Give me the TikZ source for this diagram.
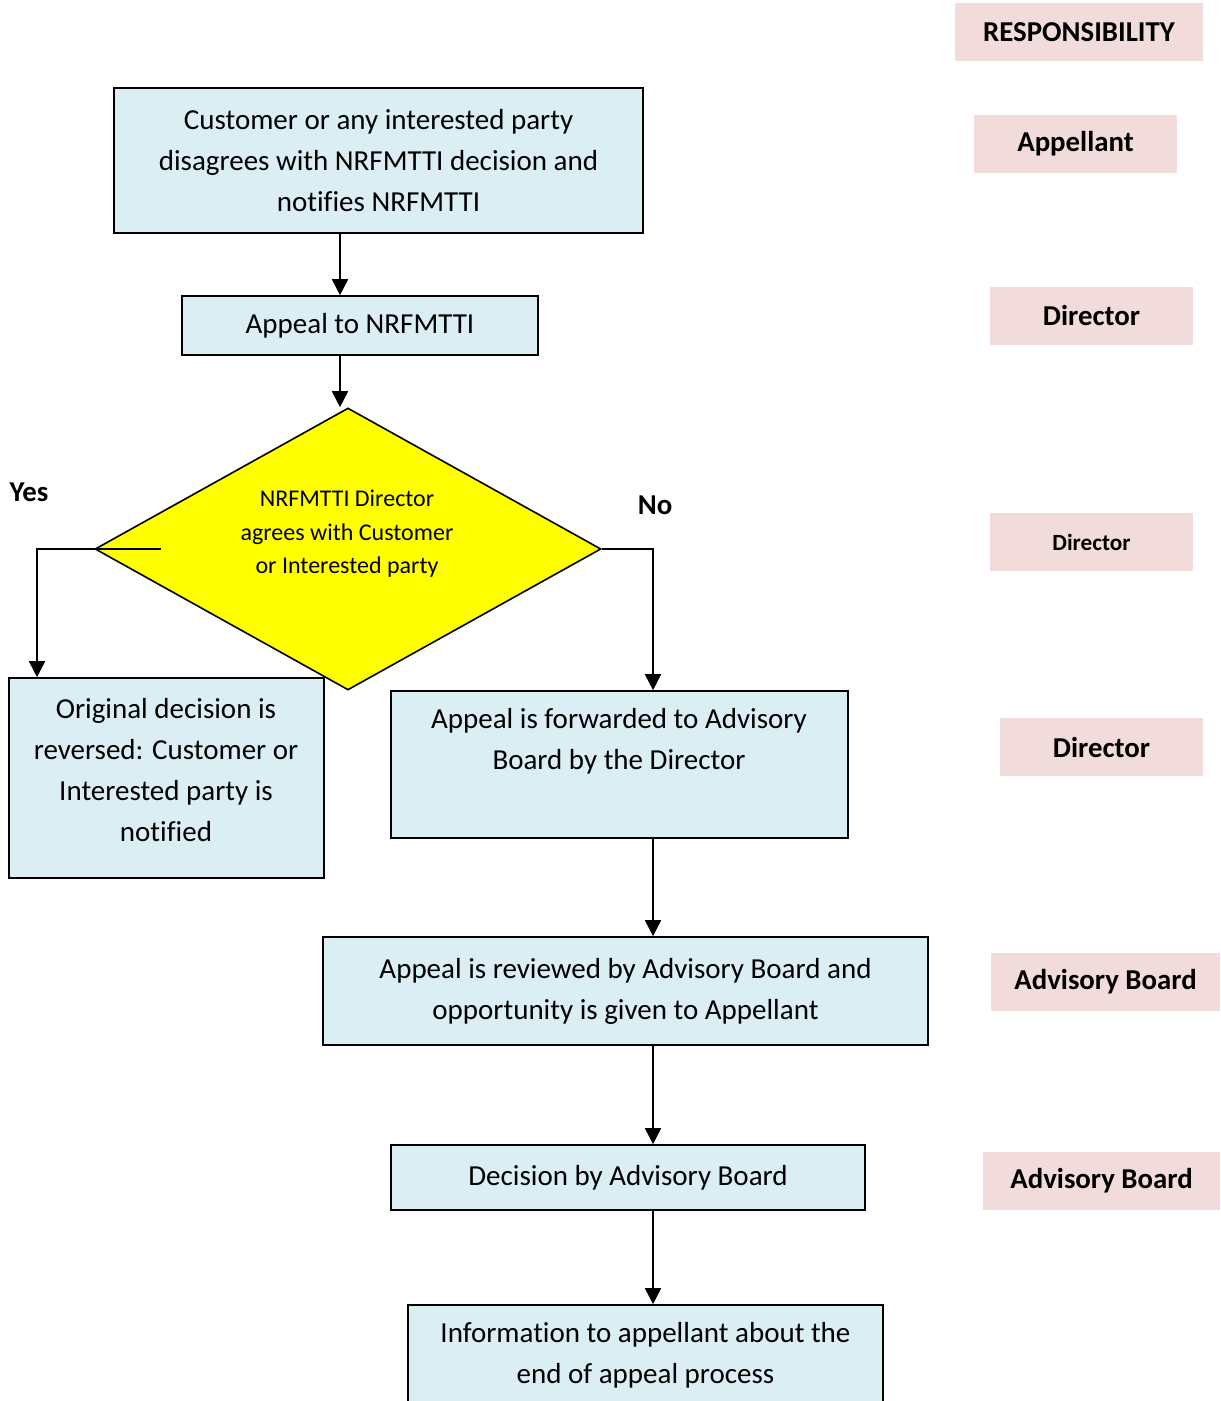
\documentclass[tikz,border=0pt]{standalone}
\usepackage{fontspec}
\setmainfont{Carlito}[Ligatures=CommonOff]
\usetikzlibrary{positioning,shapes.geometric,arrows.meta}
\definecolor{boxblue}{HTML}{DAEEF3}
\definecolor{rolepink}{HTML}{F2DCDB}
\definecolor{diayellow}{HTML}{FFFF00}
\tikzset{
    stepbox/.style={draw=black, line width=0.8pt, fill=boxblue, align=center,
        inner sep=0pt, font=\fontsize{14.5}{20.5}\selectfont},
    rolebox/.style={fill=rolepink, inner sep=0pt, minimum height=29pt,
        font=\fontsize{14.4}{17}\selectfont\bfseries},
    choice/.style={diamond, aspect=1.8, draw=black, line width=0.8pt, fill=diayellow,
        inner sep=0pt, minimum width=253pt, minimum height=141pt},
    flow/.style={line width=0.8pt, -{Triangle[length=8pt,width=8pt]}},
    answer/.style={font=\fontsize{14.4}{17}\selectfont\bfseries}
}

\begin{document}
\begin{tikzpicture}[x=0.5pt, y=-0.5pt]
\useasboundingbox (0,0) rectangle (1220,1401);

% responsibility column
\node[rolebox, minimum width=124pt] (resp) at (1079,32) {RESPONSIBILITY\hspace{16pt}};
\node[rolebox, minimum width=101.5pt] (rappl) at (1075.5,144) {Appellant};
\node[rolebox, minimum width=101.5pt] (rdir1) at (1091.5,316) {Director};
\node[rolebox, minimum width=101.5pt, font=\fontsize{11.6}{14}\selectfont\bfseries] (rdir2) at (1091.5,542) {Director};
\node[rolebox, minimum width=101.5pt] (rdir3) at (1101.5,747) {Director};
\node[rolebox, minimum width=114.5pt] (radv1) at (1105.5,982) {Advisory Board};
\node[rolebox, minimum width=118.5pt] (radv2) at (1101.5,1181) {Advisory Board};

% process
\node[stepbox, minimum width=264.5pt, minimum height=72.5pt] (cust) at (378.5,160.5)
    {Customer or any interested party\\disagrees with NRFMTTI decision and\\notifies NRFMTTI};
\node[stepbox, minimum width=178pt, minimum height=29.5pt] (appeal) at (360,325.5) {Appeal to NRFMTTI};
\node[choice] (dec) at (348,549) {};
\node[align=center, font=\fontsize{12}{16.75}\selectfont] (dectext) at (347,534)
    {NRFMTTI Director\\agrees with Customer\\or Interested party};
\node[stepbox, minimum width=157.5pt, minimum height=100pt] (yes) at (166.5,778) {};
\node[align=center, font=\fontsize{14.5}{20.5}\selectfont] (yestext) at (166,770)
    {Original decision is\\reversed: Customer or\\Interested party is\\notified};
\node[stepbox, minimum width=228.5pt, minimum height=73.5pt] (fwd) at (619.5,764.5) {};
\node[align=center, font=\fontsize{14.5}{20.5}\selectfont] (fwdtext) at (619,741)
    {Appeal is forwarded to Advisory\\Board by the Director};
\node[stepbox, minimum width=302.5pt, minimum height=54pt] (review) at (625.5,991)
    {Appeal is reviewed by Advisory Board and\\opportunity is given to Appellant};
\node[stepbox, minimum width=237pt, minimum height=32.5pt] (board) at (628,1177.5) {Decision by Advisory Board};
\node[stepbox, minimum width=237.5pt, minimum height=50pt] (info) at (645.5,1355)
    {Information to appellant about the\\end of appeal process};

\node[answer] (yeslbl) at (29,492) {Yes};
\node[answer] (nolbl) at (655,505) {No};

% connectors
\coordinate (spine) at (340,0);
\coordinate (yescol) at (37,0);
\coordinate (nocol) at (653,0);
\draw[flow] (spine |- cust.south) -- (spine |- appeal.north);
\draw[flow] (spine |- appeal.south) -- (spine |- dec.north);
\draw[line width=0.8pt] (dec.west) -- ++(67,0);
\draw[flow] (dec.west) -| (yescol |- yes.north);
\draw[flow] (dec.east) -| (nocol |- fwd.north);
\draw[flow] (nocol |- fwd.south) -- (nocol |- review.north);
\draw[flow] (nocol |- review.south) -- (nocol |- board.north);
\draw[flow] (nocol |- board.south) -- (nocol |- info.north);
\end{tikzpicture}
\end{document}
